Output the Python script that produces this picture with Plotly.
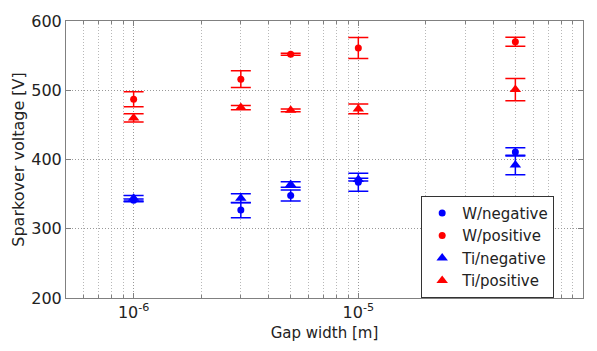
import plotly.graph_objects as go

gap = [1e-6, 3e-6, 5e-6, 1e-5, 5e-5]

w_neg = [341, 327, 348, 367, 411]
w_neg_err = [2, 11, 8, 13, 6]
w_pos = [487, 516, 552, 561, 570]
w_pos_err = [11, 12, 1.5, 15, 6.5]
ti_neg = [344, 344, 364, 371, 392]
ti_neg_err = [4, 6.5, 4, 2, 14]
ti_pos = [460, 475, 471, 473, 501]
ti_pos_err = [6, 3, 2, 7, 16]

x_major = [1e-6, 1e-5, 1e-4]
x_major_text = ["10<sup>-6</sup>", "10<sup>-5</sup>", "10<sup>-4</sup>"]
x_minor = [5e-7, 6e-7, 7e-7, 8e-7, 9e-7,
           2e-6, 3e-6, 4e-6, 5e-6, 6e-6, 7e-6, 8e-6, 9e-6,
           2e-5, 3e-5, 4e-5, 5e-5, 6e-5, 7e-5, 8e-5, 9e-5]
y_tickvals = [200, 300, 400, 500, 600]

FONT = "DejaVu Sans"

series = [
    ("W/negative", w_neg, w_neg_err, "blue", "circle", 7),
    ("W/positive", w_pos, w_pos_err, "red", "circle", 7),
    ("Ti/negative", ti_neg, ti_neg_err, "blue", "triangle-up", 10),
    ("Ti/positive", ti_pos, ti_pos_err, "red", "triangle-up", 10),
]

fig = go.Figure()
for name, vals, errs, col, sym, sz in series:
    fig.add_trace(go.Scatter(
        x=gap, y=vals, mode="markers", name=name,
        marker=dict(color=col, symbol=sym, size=sz),
        error_y=dict(type="data", array=errs, visible=True,
                     color=col, thickness=1.5, width=10),
    ))

axis_common = dict(
    showline=True, linecolor="#808080", linewidth=1, mirror="ticks",
    ticks="inside", ticklen=5, tickcolor="#808080",
    showgrid=True, gridcolor="#999999", griddash="1px,2px", gridwidth=1,
    zeroline=False,
    tickfont=dict(family=FONT, size=16, color="#222"),
)

fig.update_xaxes(
    type="log", range=[-6.301, -4.0],
    tickmode="array", tickvals=x_major, ticktext=x_major_text,
    minor=dict(tickmode="array", tickvals=x_minor, ticks="inside", ticklen=3,
               tickcolor="#808080", showgrid=True, gridcolor="#b8b8b8",
               griddash="1px,2px", gridwidth=1),
    title=dict(text="Gap width [m]", font=dict(family=FONT, size=15, color="#222"), standoff=6),
    **axis_common,
)
fig.update_yaxes(
    range=[200, 600], tickmode="array", tickvals=y_tickvals,
    title=dict(text="Sparkover voltage [V]", font=dict(family=FONT, size=16, color="#222"), standoff=2),
    **axis_common,
)

fig.update_layout(
    width=597, height=351,
    margin=dict(l=66, r=14, t=16, b=53),
    paper_bgcolor="white", plot_bgcolor="white",
    font=dict(family=FONT, size=16, color="#222"),
    legend=dict(
        x=0.687, y=0.369, xanchor="left", yanchor="top",
        bgcolor="white", bordercolor="#333", borderwidth=1,
        font=dict(family=FONT, size=15, color="#222"),
        tracegroupgap=0, itemwidth=30,
    ),
    showlegend=True,
)

fig.write_html("out.html")
